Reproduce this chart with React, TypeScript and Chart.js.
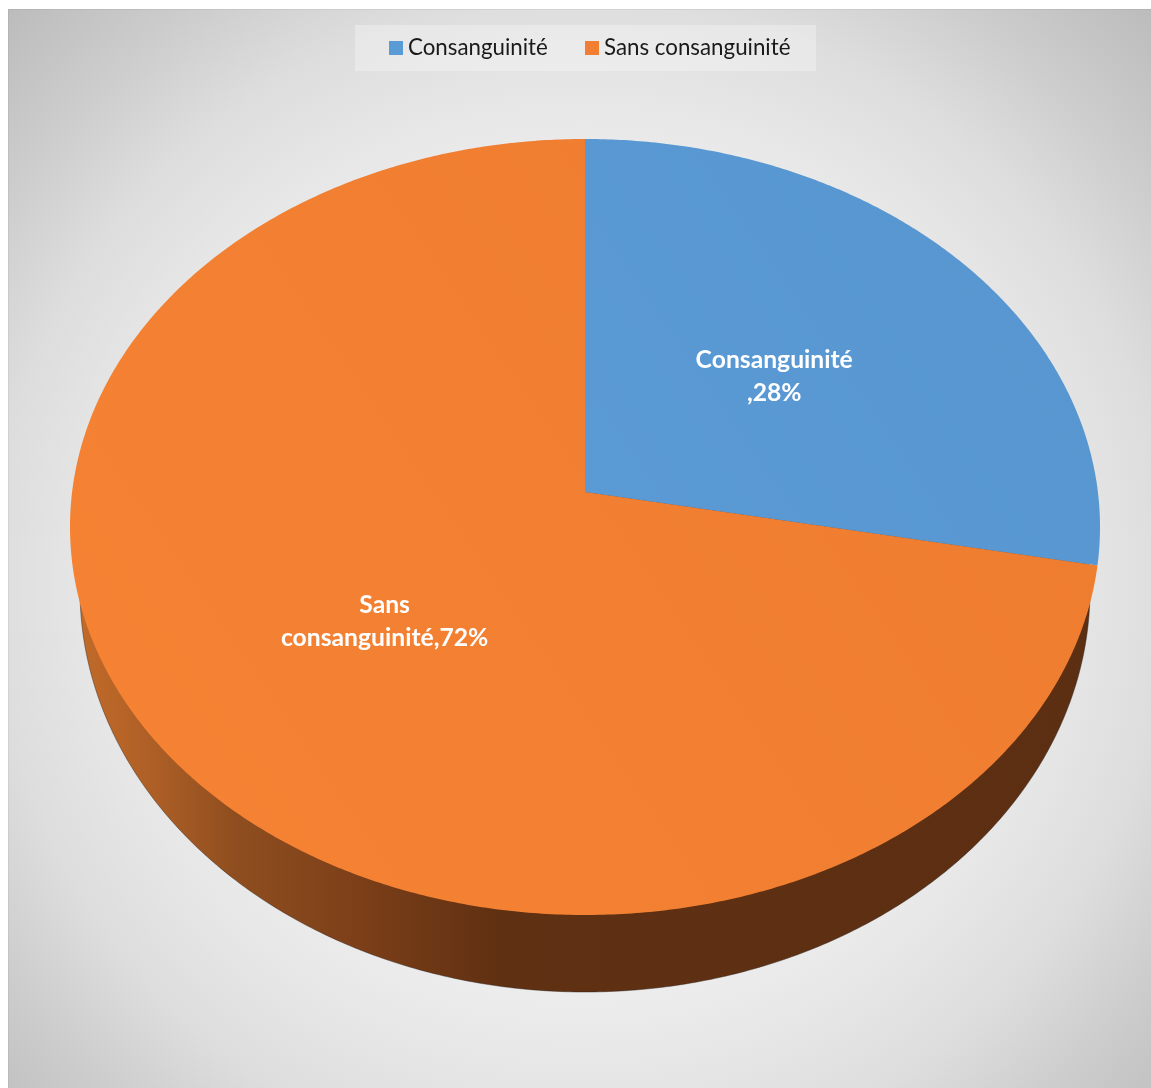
import React, { useEffect, useRef } from "react";
import { Chart, registerables } from "chart.js";

Chart.register(...registerables);

// Chart data
const categories = ["Consanguinité", "Sans consanguinité"];
const values = [28, 72];
const sliceColors = ["#5b9bd5", "#f27f31"];
const labelLines = [
  [categories[0], `,${values[0]}%`],
  ["Sans", `consanguinité,${values[1]}%`],
];

// Canvas size and offset inside the page
const WIDTH = 1143;
const HEIGHT = 1079;
const OFFSET_X = 8;
const OFFSET_Y = 9;

// Tilted disc: upper face and lower rim, in canvas pixels
const topRim = { cx: 577, cy: 518, rx: 515, ry: 388, skew: -0.09 };
const lowerRim = { cx: 577, cy: 581, rx: 505, ry: 402, skew: -0.19 };
const faceShades = [
  ["#5e9edb", "#5796cf"],
  ["#f68334", "#ee7c2f"],
];
const FONT = "Lato, 'Open Sans', sans-serif";

type Rim = typeof topRim;

// Perspective projection of a point of the unit disc onto an ellipse
function project(rim: Rim, angle: number, radius: number) {
  const theta = angle + Math.PI / 2;
  const u = radius * Math.sin(theta);
  const v = -radius * Math.cos(theta);
  const d = 1 + rim.skew * v;
  return {
    x: rim.cx + (rim.rx * u * Math.sqrt(1 - rim.skew * rim.skew)) / d,
    y: rim.cy + (rim.ry * (v + rim.skew)) / d,
  };
}

function traceRim(ctx: CanvasRenderingContext2D, rim: Rim, start: number, end: number) {
  const steps = Math.max(2, Math.ceil((end - start) * 120));
  for (let i = 0; i <= steps; i++) {
    const p = project(rim, start + ((end - start) * i) / steps, 1);
    ctx.lineTo(p.x, p.y);
  }
}

function wallGradient(ctx: CanvasRenderingContext2D, index: number) {
  const g = ctx.createLinearGradient(62, 0, 1092, 0);
  if (index === 0) {
    g.addColorStop(0, "#2f5f8c");
    g.addColorStop(1, "#2f5f8c");
    return g;
  }
  g.addColorStop(0, "#c46c2a");
  g.addColorStop(0.08, "#ae5f26");
  g.addColorStop(0.16, "#8f4e1f");
  g.addColorStop(0.28, "#7c3f18");
  g.addColorStop(0.42, "#5f3012");
  g.addColorStop(1, "#5d2f12");
  return g;
}

const discPlugin = {
  id: "tiltedDisc",
  // Replaces the flat arcs with the projected disc, using the angles Chart.js computed
  beforeDatasetsDraw(chart: Chart) {
    const ctx = chart.ctx;
    const arcs = chart.getDatasetMeta(0).data as any[];
    ctx.save();

    // Side wall first, so the upper face covers its hidden part
    arcs.forEach((arc, i) => {
      const apex = project(lowerRim, 0, 0);
      ctx.beginPath();
      ctx.moveTo(apex.x, apex.y);
      traceRim(ctx, lowerRim, arc.startAngle, arc.endAngle);
      ctx.closePath();
      ctx.fillStyle = wallGradient(ctx, i);
      ctx.fill();
      ctx.beginPath();
      traceRim(ctx, lowerRim, arc.startAngle, arc.endAngle);
      ctx.strokeStyle = "rgba(45,35,30,0.45)";
      ctx.lineWidth = 1;
      ctx.stroke();
    });

    // Upper face
    arcs.forEach((arc, i) => {
      const apex = project(topRim, 0, 0);
      ctx.beginPath();
      ctx.moveTo(apex.x, apex.y);
      traceRim(ctx, topRim, arc.startAngle, arc.endAngle);
      ctx.closePath();
      const g = ctx.createLinearGradient(100, 850, 1050, 200);
      g.addColorStop(0, faceShades[i][0]);
      g.addColorStop(1, faceShades[i][1]);
      ctx.fillStyle = g;
      ctx.fill();
    });

    ctx.restore();
    return false;
  },
  afterDraw(chart: Chart) {
    const ctx = chart.ctx;
    const arcs = chart.getDatasetMeta(0).data as any[];
    ctx.save();
    ctx.fillStyle = "#ffffff";
    ctx.font = `bold 24.7px ${FONT}`;
    ctx.textAlign = "center";
    ctx.textBaseline = "middle";
    arcs.forEach((arc, i) => {
      const mid = (arc.startAngle + arc.endAngle) / 2;
      const p = project(topRim, mid, 0.5);
      const x = topRim.cx + (p.x - topRim.cx) * 0.985;
      labelLines[i].forEach((line, j) => {
        ctx.fillText(line, x, p.y + 3.3 + (j - 0.5) * 33);
      });
    });

    // Legend strip
    ctx.fillStyle = "rgba(255,255,255,0.3)";
    ctx.fillRect(347, 16, 461, 46);
    ctx.font = `22.3px ${FONT}`;
    ctx.textAlign = "left";
    const legendX = [381, 577];
    categories.forEach((name, i) => {
      ctx.fillStyle = sliceColors[i];
      ctx.fillRect(legendX[i], 32, 14, 14);
      ctx.fillStyle = "#1a1a1a";
      ctx.fillText(name, legendX[i] + 19, 39);
    });
    ctx.restore();
  },
};

const backdropPlugin = {
  id: "backdrop",
  beforeDraw(chart: Chart) {
    const ctx = chart.ctx;
    ctx.save();
    const g = ctx.createRadialGradient(572, 575, 0, 572, 575, 811);
    g.addColorStop(0, "#f0f0f0");
    g.addColorStop(0.513, "#ececec");
    g.addColorStop(0.609, "#e6e6e6");
    g.addColorStop(0.727, "#dddddd");
    g.addColorStop(0.858, "#cccccc");
    g.addColorStop(1, "#bcbcbc");
    ctx.fillStyle = g;
    ctx.fillRect(0, 0, WIDTH, HEIGHT);
    ctx.strokeStyle = "rgba(0,0,0,0.05)";
    ctx.lineWidth = 1;
    ctx.strokeRect(0.5, 0.5, WIDTH + 4, HEIGHT + 4);
    ctx.restore();
  },
};

export default function App() {
  const canvasRef = useRef<HTMLCanvasElement | null>(null);

  useEffect(() => {
    const chart = new Chart(canvasRef.current!, {
      type: "pie",
      data: {
        labels: categories,
        datasets: [{ data: values, backgroundColor: sliceColors, borderWidth: 0 }],
      },
      options: {
        responsive: false,
        devicePixelRatio: 1,
        animation: false,
        plugins: { legend: { display: false }, tooltip: { enabled: false } },
      },
      plugins: [backdropPlugin, discPlugin],
    });
    return () => chart.destroy();
  }, []);

  return (
    <div style={{ position: "absolute", left: OFFSET_X, top: OFFSET_Y, width: WIDTH, height: HEIGHT, overflow: "hidden" }}>
      <canvas ref={canvasRef} width={WIDTH} height={HEIGHT} style={{ display: "block" }} />
    </div>
  );
}
